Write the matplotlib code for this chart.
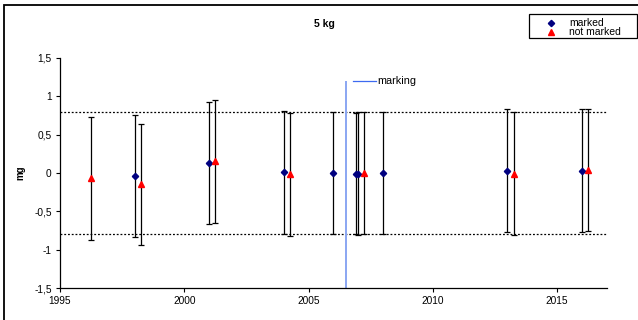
import matplotlib
matplotlib.use('Agg')
import matplotlib.pyplot as plt
from matplotlib.ticker import FuncFormatter, MultipleLocator
from matplotlib.patches import Rectangle
from matplotlib.lines import Line2D

plt.rcParams['font.family'] = ['Liberation Sans', 'DejaVu Sans']
plt.rcParams['font.size'] = 7

# weighings of the 5 kg standard, deviation in mg with uncertainty
years_marked = [1998.0, 2001.0, 2004.0, 2006.0, 2006.9, 2007.0, 2008.0, 2013.0, 2016.0]
dev_marked = [-0.04, 0.13, 0.01, 0.0, -0.01, -0.01, 0.0, 0.03, 0.03]
unc_marked = [0.80, 0.79, 0.80, 0.79, 0.79, 0.80, 0.79, 0.80, 0.80]

years_not_marked = [1996.25, 1998.25, 2001.25, 2004.25, 2007.25, 2013.25, 2016.25]
dev_not_marked = [-0.07, -0.15, 0.15, -0.02, 0.0, -0.01, 0.04]
unc_not_marked = [0.80, 0.79, 0.80, 0.80, 0.79, 0.80, 0.80]

series_labels = ['marked', 'not marked']
limit = 0.8
marking_year = 2006.5

W, H = 638, 320
fig = plt.figure(figsize=(W / 100, H / 100), dpi=100)
ax = fig.add_axes([0.094, 0.1, 0.857, 0.719])

# tolerance limits
ax.axhline(limit, color='black', lw=0.9, ls=(0, (1.5, 1.5)))
ax.axhline(-limit, color='black', lw=0.9, ls=(0, (1.5, 1.5)))

# marking date
ax.vlines(marking_year, -1.5, 1.2, color='#8aa6f2', lw=1.4, zorder=2)
ax.plot([2006.81, 2007.7], [1.197, 1.197], color='#3d6af0', lw=0.9, clip_on=False)
ax.text(2007.78, 1.197, 'marking', va='center', ha='left', fontsize=7.8)

ax.errorbar(years_marked, dev_marked, yerr=unc_marked, fmt='D', color='#000080',
            ms=3.2, ecolor='black', elinewidth=0.9, capsize=2.5, capthick=0.9, zorder=3)
ax.errorbar(years_not_marked, dev_not_marked, yerr=unc_not_marked, fmt='^', color='#ff0000',
            ms=4.5, ecolor='black', elinewidth=0.9, capsize=2.5, capthick=0.9, zorder=3)

ax.set_xlim(1995, 2017)
ax.set_ylim(-1.5, 1.5)
ax.xaxis.set_major_locator(MultipleLocator(5))
ax.yaxis.set_major_locator(MultipleLocator(0.5))
ax.yaxis.set_major_formatter(FuncFormatter(lambda v, p: ('%g' % v).replace('.', ',')))
ax.tick_params(direction='out', length=3, width=0.8, labelsize=7.3, pad=3)
ax.spines['top'].set_visible(False)
ax.spines['right'].set_visible(False)
for s in ('left', 'bottom'):
    ax.spines[s].set_linewidth(0.9)

ax.set_ylabel('mg', fontweight='bold', fontsize=7, labelpad=6)
fig.text(0.508, 0.925, '5 kg', ha='center', va='center', fontweight='bold', fontsize=7.5)

# legend box, drawn by hand in pixel positions
def px(x, y):
    return x / W, 1 - y / H

lx0, ly0 = px(529, 38)
fig.patches.append(Rectangle((lx0, ly0), (637 - 529) / W, 24 / H, transform=fig.transFigure,
                             fill=False, edgecolor='black', lw=0.9))
styles = [dict(marker='D', color='#000080', ms=3.2), dict(marker='^', color='#ff0000', ms=4.5)]
for row, (lab, st) in enumerate(zip(series_labels, styles)):
    mx, my = px(551, 22.7 + row * 9.6)
    fig.add_artist(Line2D([mx], [my], ls='none', transform=fig.transFigure, **st))
    tx, _ = px(569, 0)
    fig.text(tx, my, lab, ha='left', va='center', fontsize=7.5)

# outer chart frame
fig.patches.append(Rectangle((4 / W, -0.1), 1.1, 1 - 5 / H + 0.1, transform=fig.transFigure,
                             fill=False, edgecolor='black', lw=1.3))

fig.savefig('out.png', dpi=100)
